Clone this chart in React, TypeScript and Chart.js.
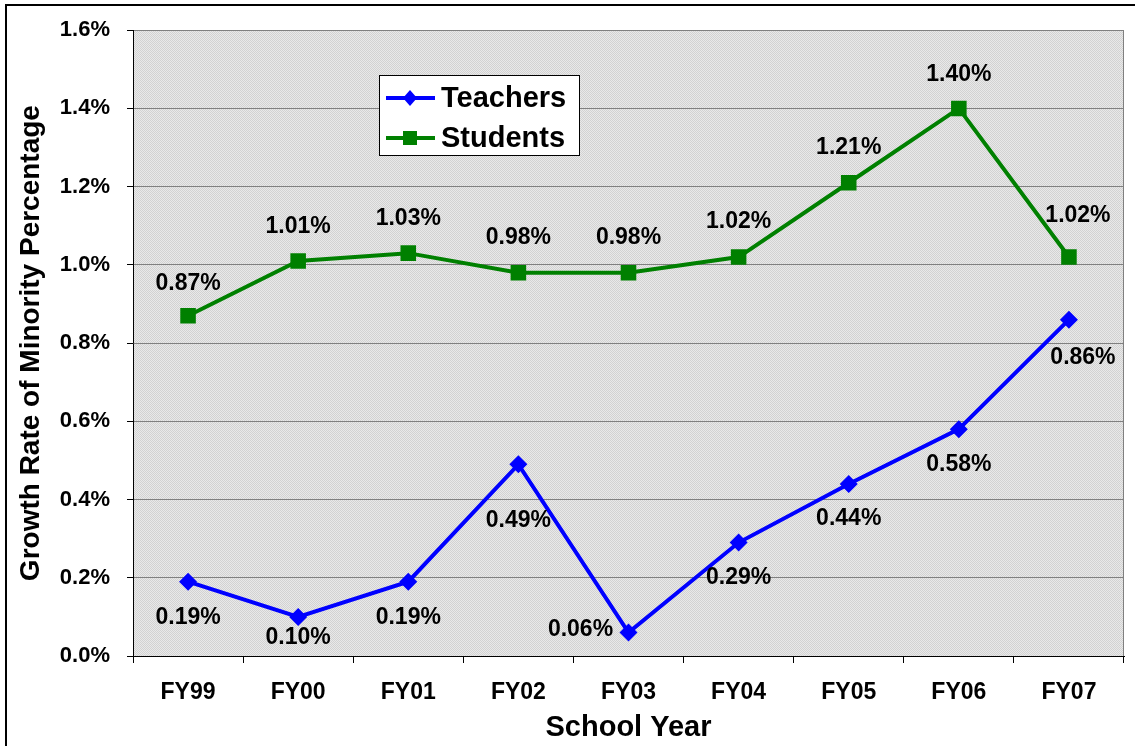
import React, { useEffect, useRef } from "react";
import { Chart, registerables } from "chart.js";

Chart.register(...registerables);

// School years on the category axis
const years = ["FY99", "FY00", "FY01", "FY02", "FY03", "FY04", "FY05", "FY06", "FY07"];

// Growth rate of minority percentage (in percent)
const teachers = [0.19, 0.10, 0.19, 0.49, 0.06, 0.29, 0.44, 0.58, 0.86];
const students = [0.87, 1.01, 1.03, 0.98, 0.98, 1.02, 1.21, 1.40, 1.02];

// Value-axis ticks
const yTicks = [0, 0.2, 0.4, 0.6, 0.8, 1.0, 1.2, 1.4, 1.6];

// Value label nudges relative to each point (pixels)
const teacherLabelDx = [0, 0, 0, 0, -48, 0, 0, 0, 14];
const teacherLabelDy = [36, 21, 36, 56, -3, 35, 35, 36, 38];
const studentLabelDx = [0, 0, 0, 0, 0, 0, 0, 0, 9];
const studentLabelDy = [-32, -34, -34, -35, -35, -35, -35, -34, -41];

const FONT = "'Liberation Sans', Arial, Helvetica, sans-serif";

function makePattern(ctx: CanvasRenderingContext2D): CanvasPattern | string {
  const c = document.createElement("canvas");
  c.width = 2;
  c.height = 2;
  const p = c.getContext("2d");
  if (!p) return "#dedede";
  p.fillStyle = "#e9e9e9";
  p.fillRect(0, 0, 2, 2);
  p.fillStyle = "#d2d2d2";
  p.fillRect(0, 0, 1, 1);
  p.fillRect(1, 1, 1, 1);
  return ctx.createPattern(c, "repeat") || "#dedede";
}

const framePlugin = {
  id: "frame",
  beforeDraw(chart: any) {
    const { ctx, chartArea } = chart;
    ctx.save();
    ctx.fillStyle = "#ffffff";
    ctx.fillRect(0, 0, chart.width, chart.height);
    // outer chart border
    ctx.strokeStyle = "#000";
    ctx.lineWidth = 2;
    ctx.beginPath();
    ctx.moveTo(6, chart.height);
    ctx.lineTo(6, 5);
    ctx.lineTo(chart.width, 5);
    ctx.stroke();
    // plot area fill
    ctx.fillStyle = makePattern(ctx);
    ctx.fillRect(chartArea.left, chartArea.top, chartArea.right - chartArea.left, chartArea.bottom - chartArea.top);
    ctx.restore();
  },
  beforeDatasetsDraw(chart: any) {
    const { ctx, chartArea } = chart;
    ctx.save();
    ctx.strokeStyle = "#808080";
    ctx.lineWidth = 1;
    ctx.beginPath();
    ctx.moveTo(Math.round(chartArea.right) - 0.5, chartArea.top);
    ctx.lineTo(Math.round(chartArea.right) - 0.5, chartArea.bottom);
    ctx.stroke();
    ctx.restore();
  },
};

const labelPlugin = {
  id: "valueLabels",
  afterDatasetsDraw(chart: any) {
    const { ctx } = chart;
    const offsets = [
      [teacherLabelDx, teacherLabelDy],
      [studentLabelDx, studentLabelDy],
    ];
    ctx.save();
    ctx.font = `bold 23px ${FONT}`;
    ctx.fillStyle = "#000";
    ctx.textAlign = "center";
    ctx.textBaseline = "middle";
    chart.data.datasets.forEach((ds: any, di: number) => {
      const meta = chart.getDatasetMeta(di);
      meta.data.forEach((pt: any, i: number) => {
        const v = ds.data[i] as number;
        ctx.fillText(v.toFixed(2) + "%", pt.x + offsets[di][0][i], pt.y + offsets[di][1][i]);
      });
    });
    ctx.restore();
  },
};

const legendPlugin = {
  id: "boxLegend",
  afterDatasetsDraw(chart: any) {
    const { ctx } = chart;
    const bx = 379.5, by = 75.5, bw = 200, bh = 80;
    ctx.save();
    ctx.fillStyle = "#fff";
    ctx.fillRect(bx, by, bw, bh);
    ctx.strokeStyle = "#000";
    ctx.lineWidth = 1;
    ctx.strokeRect(bx, by, bw, bh);
    const rows = [98, 138];
    chart.data.datasets.forEach((ds: any, i: number) => {
      const y = rows[i];
      ctx.strokeStyle = ds.borderColor;
      ctx.lineWidth = 4;
      ctx.beginPath();
      ctx.moveTo(386, y);
      ctx.lineTo(435, y);
      ctx.stroke();
      ctx.fillStyle = ds.borderColor;
      const cx = 410;
      if (ds.pointStyle === "rectRot") {
        ctx.beginPath();
        ctx.moveTo(cx - 7, y);
        ctx.lineTo(cx, y - 8);
        ctx.lineTo(cx + 7, y);
        ctx.lineTo(cx, y + 8);
        ctx.closePath();
        ctx.fill();
      } else {
        ctx.fillRect(cx - 7, y - 7, 14, 14);
      }
      ctx.fillStyle = "#000";
      ctx.font = `bold 29px ${FONT}`;
      ctx.textAlign = "left";
      ctx.textBaseline = "middle";
      ctx.fillText(ds.label, 441, y + 1);
    });
    ctx.restore();
  },
};

export default function App() {
  const ref = useRef<HTMLCanvasElement | null>(null);

  useEffect(() => {
    if (!ref.current) return;
    const chart = new Chart(ref.current, {
      type: "line",
      data: {
        labels: years,
        datasets: [
          {
            label: "Teachers",
            data: teachers,
            borderColor: "#0000ff",
            backgroundColor: "#0000ff",
            borderWidth: 4,
            pointStyle: "rectRot",
            pointRadius: 9,
            pointBorderWidth: 0,
            tension: 0,
          },
          {
            label: "Students",
            data: students,
            borderColor: "#008000",
            backgroundColor: "#008000",
            borderWidth: 4,
            pointStyle: "rect",
            pointRadius: 11,
            pointBorderWidth: 0,
            tension: 0,
          },
        ],
      },
      options: {
        responsive: false,
        animation: false,
        layout: { padding: { top: 27, right: 4, left: 0, bottom: 0 } },
        plugins: {
          legend: { display: false },
          tooltip: { enabled: false },
        },
        scales: {
          x: {
            offset: true,
            afterFit(scale: any) {
              scale.height = 90;
            },
            grid: {
              offset: true,
              drawOnChartArea: false,
              drawTicks: true,
              tickLength: 7,
              color: "#000",
            },
            border: { display: true, color: "#000", width: 1 },
            ticks: {
              color: "#000",
              padding: 16,
              font: { family: FONT, size: 23, weight: "bold" },
            },
            title: {
              display: true,
              text: "School Year",
              color: "#000",
              font: { family: FONT, size: 29, weight: "bold" },
              padding: { top: 0, bottom: 1 },
            },
          },
          y: {
            min: 0,
            max: 1.6,
            afterFit(scale: any) {
              scale.width = 133;
            },
            afterBuildTicks(scale: any) {
              scale.ticks = yTicks.map((v) => ({ value: v }));
            },
            grid: {
              color: "#808080",
              lineWidth: 1,
              tickLength: 6,
              tickColor: "#000",
            },
            border: { display: true, color: "#000", width: 1 },
            ticks: {
              color: "#000",
              padding: 17,
              font: { family: FONT, size: 22, weight: "bold" },
              callback: (v: any) => Number(v).toFixed(1) + "%",
            },
            title: {
              display: true,
              text: "Growth Rate of Minority Percentage",
              color: "#000",
              font: { family: FONT, size: 28, weight: "bold" },
              padding: { top: 14, bottom: 0 },
            },
          },
        },
      },
      plugins: [framePlugin, labelPlugin, legendPlugin],
    } as any);
    return () => chart.destroy();
  }, []);

  return (
    <div style={{ position: "absolute", left: 0, top: 0, width: 1135, height: 746 }}>
      <canvas ref={ref} width={1135} height={746} style={{ display: "block" }} />
    </div>
  );
}
